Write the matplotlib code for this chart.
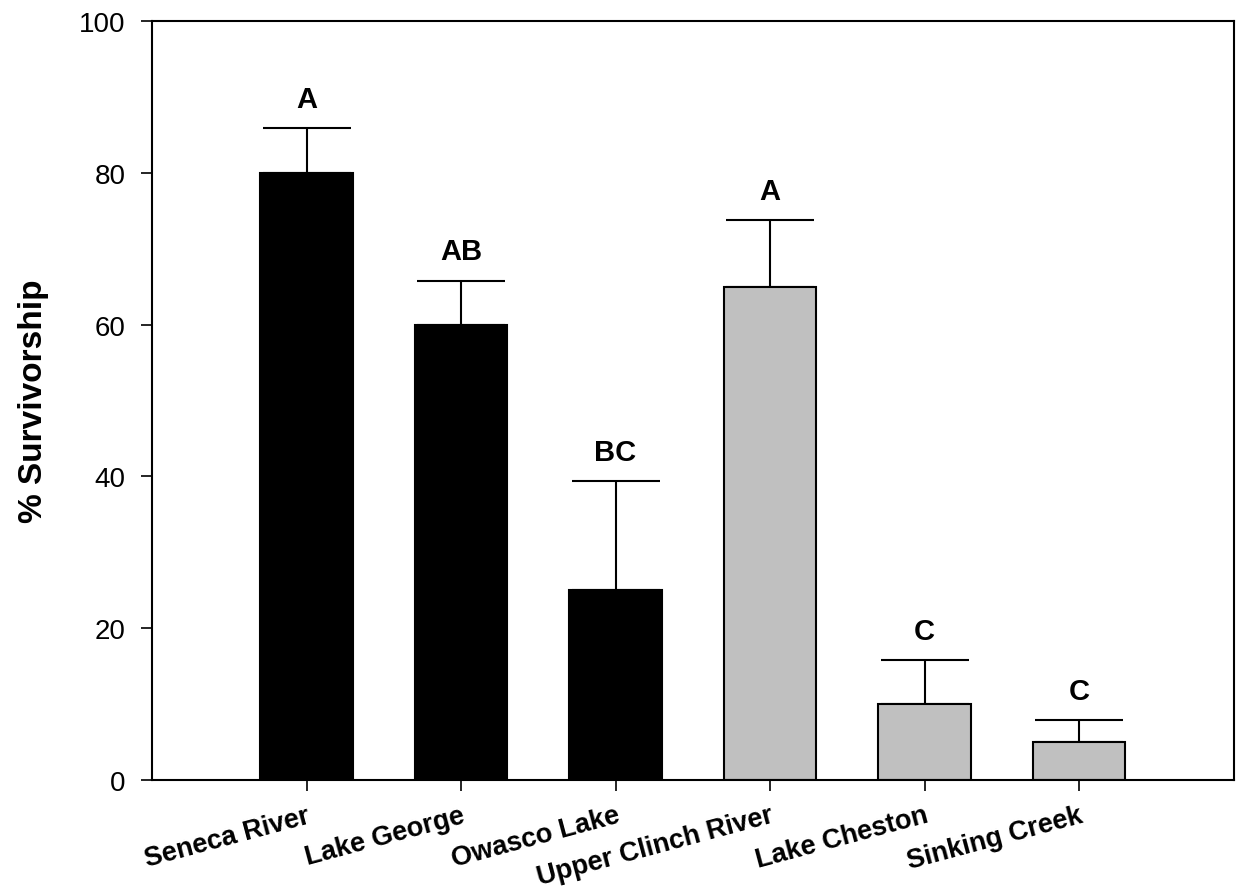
import numpy as np
import matplotlib.pyplot as plt

# ── data ────────────────────────────────────────────
sites    = ["Seneca River", "Lake George", "Owasco Lake",
            "Upper Clinch River", "Lake Cheston", "Sinking Creek"]
survival = [80, 60, 25, 65, 10, 5]
sem      = [5.9, 5.8, 14.4, 8.8, 5.8, 2.9]
letters  = ["A", "AB", "BC", "A", "C", "C"]
colors   = ["black", "black", "black", "#c0c0c0", "#c0c0c0", "#c0c0c0"]

plt.rcParams["font.family"] = ["Liberation Sans", "DejaVu Sans"]

fig = plt.figure(figsize=(12.36, 8.95), dpi=100)
ax = fig.add_axes([0.123, 0.1274, 0.875, 0.848])

x = np.arange(len(sites))
ax.bar(x, survival, width=0.6, color=colors, edgecolor="black", linewidth=1.5, zorder=2)
ax.errorbar(x, survival, yerr=[np.zeros(len(sem)), sem], fmt="none",
            ecolor="black", elinewidth=1.5, capsize=32, capthick=1.5, zorder=1)

for xi, m, e, lab in zip(x, survival, sem, letters):
    ax.text(xi, m + e + 2.0, lab, ha="center", va="bottom",
            fontsize=21, fontweight="bold")

ax.set_xlim(-1, 6)
ax.set_ylim(0, 100)
ax.set_yticks([0, 20, 40, 60, 80, 100])
ax.set_xticks(x)
ax.set_xticklabels(sites, rotation=15, ha="right", va="top",
                   rotation_mode="anchor", fontsize=19.5, fontweight="bold")
ax.tick_params(axis="y", labelsize=20, length=8, width=1.2, pad=11, direction="out")
ax.tick_params(axis="x", length=8, width=1.2, pad=8, direction="out")
for s in ax.spines.values():
    s.set_linewidth(1.5)

ax.set_ylabel("% Survivorship", fontsize=24, fontweight="bold", labelpad=22)

fig.savefig("out.png", dpi=100)
